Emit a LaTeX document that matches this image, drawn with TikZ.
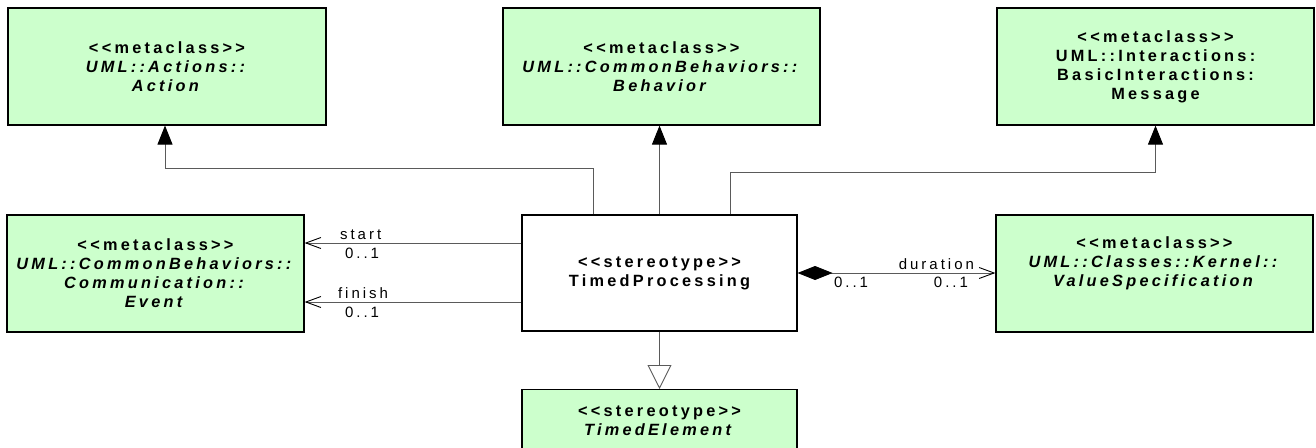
\documentclass[tikz,border=0pt]{standalone}
\usepackage{fontspec}
\setmainfont{Liberation Sans}[LetterSpace=20, Ligatures=TeXOff]
\usetikzlibrary{arrows.meta,positioning}
\definecolor{umlgreen}{HTML}{CCFFCC}
\definecolor{linkgray}{HTML}{5A5A5A}

\begin{document}
\begin{tikzpicture}[x=1pt, y=-1pt,
    umlbox/.style={draw=black, line width=1.2pt, fill=umlgreen, align=center,
        inner sep=0pt, minimum width=317pt, minimum height=117pt,
        font=\fontsize{16.3}{19}\selectfont\bfseries},
    link/.style={draw=linkgray, line width=0.9pt},
    realize/.style={link, -{Triangle[length=19pt, width=15pt, black]}},
    assoc/.style={link, -{Straight Barb[length=15pt, width=11pt, black]}},
    lbl/.style={font=\fontsize{15}{16}\selectfont, inner sep=1pt}
]
    \useasboundingbox (0,0) rectangle (1316,447);
    % metaclasses
    \node[umlbox, minimum width=318pt] (action) at (167,66.5)
        {<<metaclass>>\\ \textit{UML::Actions::}\\ \textit{Action}};
    \node[umlbox] (behavior) at (661.5,66.5)
        {<<metaclass>>\\ \textit{UML::CommonBehaviors::}\\ \textit{Behavior}};
    \node[umlbox] (message) at (1155.5,66.5)
        {<<metaclass>>\\ UML::Interactions:\\ BasicInteractions:\\ Message};
    \node[umlbox, minimum width=297pt] (event) at (155.5,273.5)
        {<<metaclass>>\\ \textit{UML::CommonBehaviors::}\\ \textit{Communication::}\\ \textit{Event}};
    \node[umlbox] (value) at (1154.5,273.5)
        {<<metaclass>>\\ \textit{UML::Classes::Kernel::}\\ \textit{ValueSpecification}\\[4pt]};
    % stereotypes
    \node[umlbox, fill=white, minimum width=275pt, minimum height=116pt] (proc) at (659.5,273)
        {<<stereotype>>\\ TimedProcessing};
    \node[umlbox, minimum width=275pt, minimum height=62pt, anchor=north] (element) at (659.5,389)
        {<<stereotype>>\\ \textit{TimedElement}};

    % connectors
    \draw[realize] ([xshift=-66.5pt]proc.north) -- ++(0,-46) -| ([xshift=-2pt]action.south);
    \draw[realize] (proc.north) -- (proc.north |- behavior.south);
    \draw[realize] ([xshift=70.5pt]proc.north) -- ++(0,-42) -| (message.south);
    \draw[assoc] ([yshift=30pt]proc.west) coordinate (s) -- (s -| event.east)
        node[lbl, pos=1, anchor=south west, xshift=34pt, yshift=2pt] {start}
        node[lbl, pos=1, anchor=north west, xshift=39pt, yshift=-4pt] {0..1};
    \draw[assoc] ([yshift=-29pt]proc.west) coordinate (f) -- (f -| event.east)
        node[lbl, pos=1, anchor=south west, xshift=32pt, yshift=2pt] {finish}
        node[lbl, pos=1, anchor=north west, xshift=39pt, yshift=-4pt] {0..1};
    \draw[link, {Diamond[length=35pt, width=14pt, black]}-{Straight Barb[length=15pt, width=11pt, black]}]
        (proc.east) -- (value.west |- proc.east)
        node[lbl, pos=1, anchor=south east, xshift=-20pt, yshift=2pt] {duration}
        node[lbl, pos=1, anchor=north east, xshift=-26pt, yshift=-3pt] {0..1}
        node[lbl, pos=0, anchor=north west, xshift=35pt, yshift=-3pt] {0..1};
    \draw[link, -{Triangle[open, fill=white, length=24pt, width=24pt]}] (proc.south) -- (element.north);
\end{tikzpicture}
\end{document}
